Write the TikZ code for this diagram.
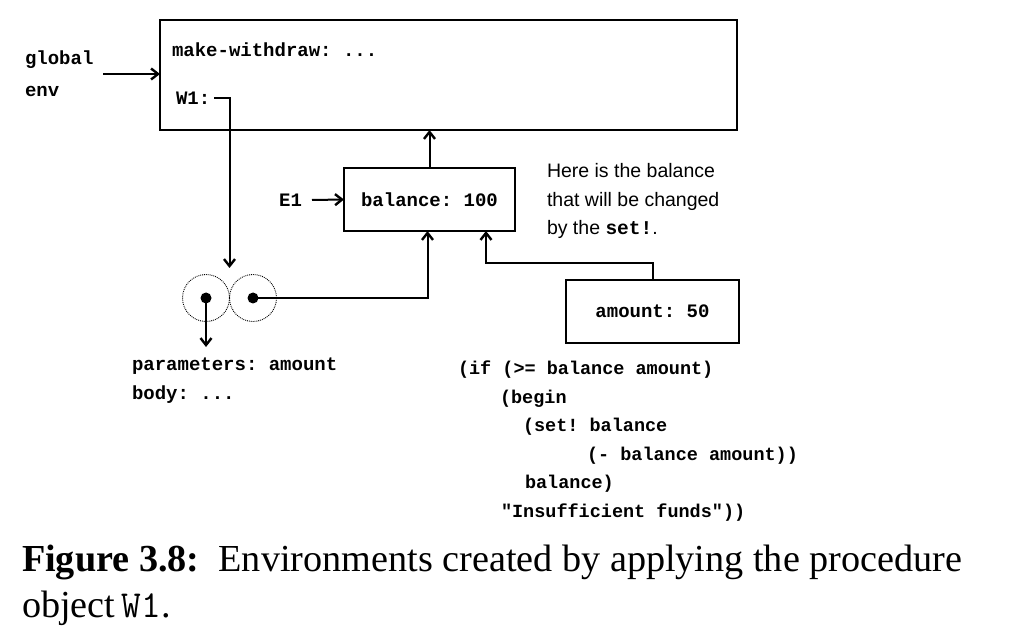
\documentclass[tikz,border=0pt]{standalone}
\usepackage{fontspec}
\setmainfont{Liberation Serif}
\newfontfamily\codefont{Liberation Mono}[BoldFont={Liberation Mono Bold}]
\newfontfamily\notefont{Liberation Sans}
\usetikzlibrary{positioning,arrows.meta}
\frenchspacing

\begin{document}
\begin{tikzpicture}[
      x=1pt, y=-1pt,
      every node/.style={inner sep=0pt, outer sep=0pt},
      frame/.style={draw, line width=2pt},
      label/.style={font=\codefont\bfseries\fontsize{19}{29}\selectfont},
      code/.style={font=\codefont\bfseries\fontsize{18.5}{28.5}\selectfont, anchor=west, align=left},
      note/.style={font=\notefont\fontsize{19.5}{28.5}\selectfont, anchor=west, align=left},
      pair/.style={circle, draw, densely dotted, line width=0.9pt, minimum size=47pt},
      caption/.style={font=\fontsize{38.2}{46}\selectfont, anchor=base west},
      arrow/.style={line width=2pt, -{Straight Barb[length=7pt, width=11pt, line width=2.4pt]}}
    ]
      \useasboundingbox (0,0) rectangle (1018,631);

      % global environment
      \node[frame, minimum width=577pt, minimum height=110pt, anchor=north west] (global) at (160,20) {};
      \node[code, label] (mw) at (172,50) {make-withdraw: ...};
      \node[code, label] (w1) at (176,98) {W1:};
      \node[code, label, font=\codefont\bfseries\fontsize{19}{32}\selectfont] (genv) at (25,74) {global\\env};

      % frame E1
      \node[frame, label, minimum width=171pt, minimum height=63pt] (e1) at (429.5,199.5) {balance: 100};
      \node[code, label, anchor=east] (e1name) at (302,200) {E1};
      \node[note] (remark) at (547,201) {Here is the balance\\that will be changed\\by the {\codefont\bfseries set!}.};

      % procedure object
      \node[pair] (left) at (206,298) {};
      \node[pair] (right) at (253,298) {};
      \fill (left) circle (5.5pt);
      \fill (right) circle (5.5pt);
      \coordinate (pairtop) at (229.5,268);
      \coordinate (ptip) at (206,347);
      \node[code, label] (params) at (132,380.5) {parameters: amount\\body: ...};

      % frame of the call
      \node[frame, label, minimum width=173pt, minimum height=63pt] (amt) at (652.5,311.5) {amount: 50};
      \node[code] (body) at (458,441) {(if (>= balance amount)\\
        \hspace*{42pt}(begin\\
        \hspace*{65pt}(set! balance\\
        \hspace*{129pt}(- balance amount))\\
        \hspace*{67pt}balance)\\
        \hspace*{43pt}"Insufficient funds"))};

      \draw[arrow] ([xshift=10pt]genv.east) -- (global.west |- genv.east);
      \draw[arrow] ([xshift=10pt]e1name.east) -- (e1.west);
      \draw[arrow] (e1.north) -- (e1.north |- global.south);
      \draw[arrow] ([xshift=4pt]w1.east) -| (pairtop);
      \draw[arrow] (left.center) -- (ptip);
      \draw[arrow] (right.center) -| ([xshift=-2pt]e1.south);
      \draw[arrow] (amt.north) -- ++(0,-17) -| ([xshift=56.5pt]e1.south);

      % caption
      \node[caption] (cap) at (22,571) {\textbf{Figure 3.8:}\ \ Environments created by applying the procedure};
      \node[caption] (cap2) at (22,617) {object\,{\ttfamily W1}.};

    \end{tikzpicture}
\end{document}
